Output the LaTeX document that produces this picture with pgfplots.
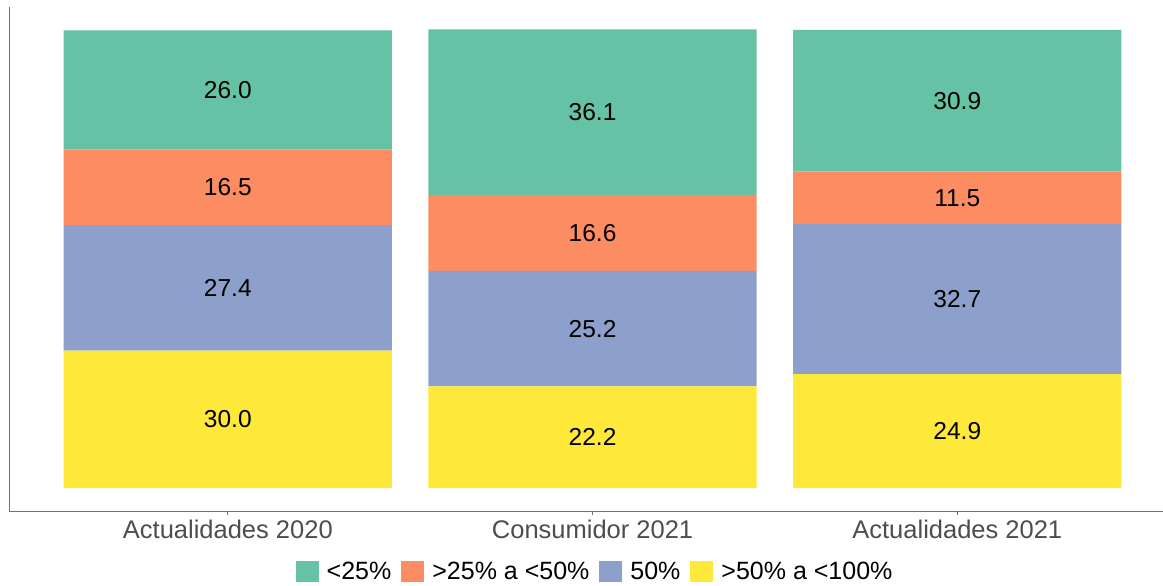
\documentclass[border=0pt]{standalone}
\usepackage{pgfplots}
\usepackage{pgfplotstable}
\pgfplotsset{compat=1.18}
\usepackage{fontspec}
\setmainfont{Liberation Sans}
\definecolor{cgreen}{HTML}{66C2A5}
\definecolor{corange}{HTML}{FC8D62}
\definecolor{cblue}{HTML}{8DA0CB}
\definecolor{cyellow}{HTML}{FEE93A}
\definecolor{axgray}{HTML}{4D4D4D}
\pgfplotstableread{
x v
0 30.0
1 22.2
2 24.9
}\yellowdata
\pgfplotstableread{
x v
0 27.4
1 25.2
2 32.7
}\bluedata
\pgfplotstableread{
x v
0 16.5
1 16.6
2 11.5
}\orangedata
\pgfplotstableread{
x v
0 26.0
1 36.1
2 30.9
}\greendata
\pgfplotsset{midlabel/.style={every node near coord/.append style={anchor=center}}}
\begin{document}
\begin{tikzpicture}
\useasboundingbox (-9pt,-75pt) rectangle (1154pt,511pt);
\begin{axis}[
  scale only axis,
  width=1154pt, height=504pt,
  anchor=south west, at={(0,0)},
  ybar stacked, bar width=0.9,
  xmin=-0.6, xmax=2.564, ymin=-5, ymax=105,
  enlargelimits=false,
  axis x line*=bottom, axis y line*=left,
  axis line style={color=axgray!80, line width=0.9pt, -},
  xtick={0,1,2},
  xticklabels={Actualidades 2020, Consumidor 2021, Actualidades 2021},
  ytick=\empty,
  tick align=outside, major tick length=4pt,
  x tick style={color=axgray!80, line width=0.9pt},
  x tick label style={font=\fontsize{25.5}{30}\selectfont, text=axgray, yshift=-1pt},
  nodes near coords={\pgfmathprintnumber[fixed,fixed zerofill,precision=1,assume math mode=true]{\pgfplotspointmeta}},
  nodes near coords style={font=\fontsize{24.5}{29}\selectfont, text=black},
  point meta=explicit,
  reverse legend,
  legend style={draw=none, legend columns=-1, at={(0.507,-0.121)}, anchor=center,
    font=\fontsize{25}{30}\selectfont, fill=none,
    /tikz/every odd column/.append style={column sep=8pt},
    /tikz/every even column/.append style={column sep=10pt},
    nodes={inner xsep=0pt}},
  legend image code/.code={\fill[#1] (0pt,-10pt) rectangle (23pt,11pt);},
]
\addplot[fill=cyellow, draw=none, midlabel] table[x=x,y=v,meta=v] {\yellowdata};
\addplot[fill=cblue, draw=none, midlabel] table[x=x,y=v,meta=v] {\bluedata};
\addplot[fill=corange, draw=none, midlabel] table[x=x,y=v,meta=v] {\orangedata};
\addplot[fill=cgreen, draw=none, midlabel] table[x=x,y=v,meta=v] {\greendata};
\legend{>50\% a <100\%, 50\%, >25\% a <50\%, <25\%}
\end{axis}
\end{tikzpicture}
\end{document}
